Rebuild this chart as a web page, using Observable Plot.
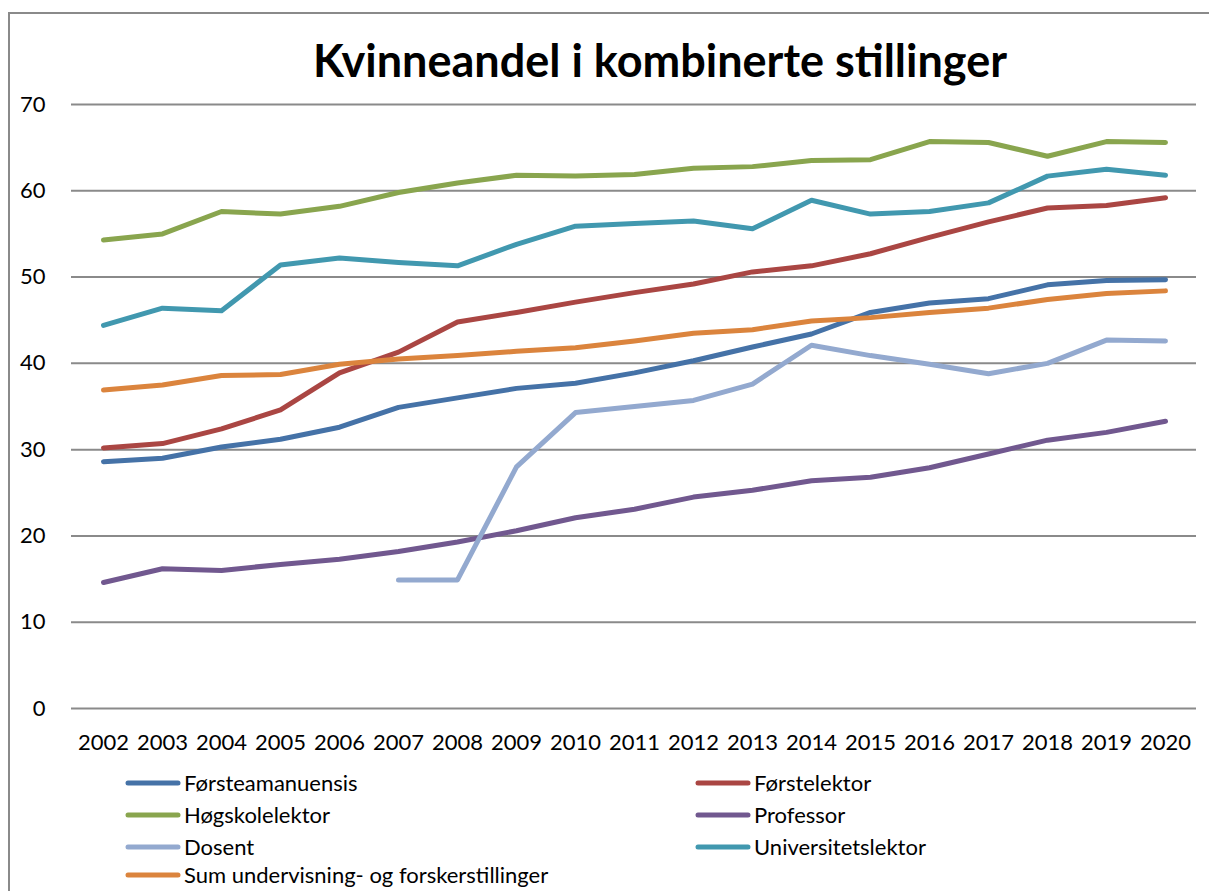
<!DOCTYPE html>
<html>
<head>
<meta charset="utf-8">
<script src="https://cdn.jsdelivr.net/npm/d3@7"></script>
<script src="https://cdn.jsdelivr.net/npm/@observablehq/plot@0.6"></script>
<style>
  html, body { margin: 0; padding: 0; background: #fff; }
  #wrap { position: relative; width: 1209px; height: 891px; overflow: hidden; background: #fff; font-family: Lato, "Open Sans", sans-serif; }
  #frame { position: absolute; left: 8px; top: 12px; width: 1300px; height: 1000px; border-left: 2px solid #8a8a8a; border-top: 2px solid #8a8a8a; }
  #title { position: absolute; left: 111px; width: 1098px; top: 38px; text-align: center; font-size: 45px; line-height: 45px; font-weight: 700; color: #000; }
  #chart { position: absolute; left: 0; top: 0; }
  .lg { position: absolute; display: flex; align-items: center; font-size: 22px; height: 32px; line-height: 32px; color: #000; white-space: nowrap; }
  .lg svg { margin-right: 3px; }
</style>
</head>
<body>
<div id="wrap">
  <div id="frame"></div>
  <div id="chart"></div>
  <div id="title">Kvinneandel i kombinerte stillinger</div>
  <div id="legend"></div>
</div>
<script>
const years = ["2002","2003","2004","2005","2006","2007","2008","2009","2010","2011","2012","2013","2014","2015","2016","2017","2018","2019","2020"];
const seriesNames = ["Førsteamanuensis","Førstelektor","Høgskolelektor","Professor","Dosent","Universitetslektor","Sum undervisning- og forskerstillinger"];
const seriesColors = ["#4572A7","#AA4643","#89A54E","#71588F","#93A9CF","#4198AF","#DB843D"];
const yTicks = [0,10,20,30,40,50,60,70];

const forsteamanuensis = [28.6,29.0,30.3,31.2,32.6,34.9,36.0,37.1,37.7,38.9,40.3,41.9,43.4,45.9,47.0,47.5,49.1,49.6,49.7];
const forstelektor     = [30.2,30.7,32.4,34.6,38.9,41.3,44.8,45.9,47.1,48.2,49.2,50.6,51.3,52.7,54.6,56.4,58.0,58.3,59.2];
const hogskolelektor   = [54.3,55.0,57.6,57.3,58.2,59.8,60.9,61.8,61.7,61.9,62.6,62.8,63.5,63.6,65.7,65.6,64.0,65.7,65.6];
const professor        = [14.6,16.2,16.0,16.7,17.3,18.2,19.3,20.6,22.1,23.1,24.5,25.3,26.4,26.8,27.9,29.5,31.1,32.0,33.3];
const dosent           = [null,null,null,null,null,14.9,14.9,28.0,34.3,35.0,35.7,37.6,42.1,40.9,39.9,38.8,40.0,42.7,42.6];
const universitetslektor = [44.4,46.4,46.1,51.4,52.2,51.7,51.3,53.8,55.9,56.2,56.5,55.6,58.9,57.3,57.6,58.6,61.7,62.5,61.8];
const sumStillinger    = [36.9,37.5,38.6,38.7,39.9,40.5,40.9,41.4,41.8,42.6,43.5,43.9,44.9,45.3,45.9,46.4,47.4,48.1,48.4];

const seriesValues = [forsteamanuensis, forstelektor, hogskolelektor, professor, dosent, universitetslektor, sumStillinger];

const rows = [];
seriesNames.forEach((name, i) => {
  years.forEach((yr, j) => {
    rows.push({series: name, year: yr, value: seriesValues[i][j]});
  });
});

const chart = Plot.plot({
  width: 1209,
  height: 770,
  marginTop: 104,
  marginBottom: 62,
  marginLeft: 71,
  marginRight: 13,
  style: {fontFamily: "Lato, 'Open Sans', sans-serif", fontSize: "22px", color: "#000", background: "transparent", overflow: "visible"},
  x: {type: "point", domain: years, padding: 0.5, label: null},
  y: {domain: [0, 70], label: null},
  color: {domain: seriesNames, range: seriesColors},
  marks: [
    Plot.ruleY(yTicks, {stroke: "#8a8a8a", strokeWidth: 2}),
    Plot.axisY({ticks: yTicks, tickSize: 0, tickPadding: 26, label: null, fontSize: 22}),
    Plot.axisX({tickSize: 0, tickPadding: 26, label: null, fontSize: 22}),
    Plot.line(rows, {x: "year", y: "value", z: "series", stroke: "series", strokeWidth: 5, strokeLinecap: "round", strokeLinejoin: "round", curve: "linear"})
  ]
});
document.getElementById("chart").appendChild(chart);

// Legend (two columns, row-major like the original)
const legend = document.getElementById("legend");
const colX = [125, 695];
const rowY = [767, 799, 831, 859];
seriesNames.forEach((name, i) => {
  const d = document.createElement("div");
  d.className = "lg";
  d.style.left = colX[i % 2] + "px";
  d.style.top = rowY[Math.floor(i / 2)] + "px";
  d.innerHTML = `<svg width="56" height="10"><line x1="3" y1="5" x2="53" y2="5" stroke="${seriesColors[i]}" stroke-width="5" stroke-linecap="round"/></svg><span></span>`;
  d.querySelector("span").textContent = name;
  legend.appendChild(d);
});
</script>
</body>
</html>
